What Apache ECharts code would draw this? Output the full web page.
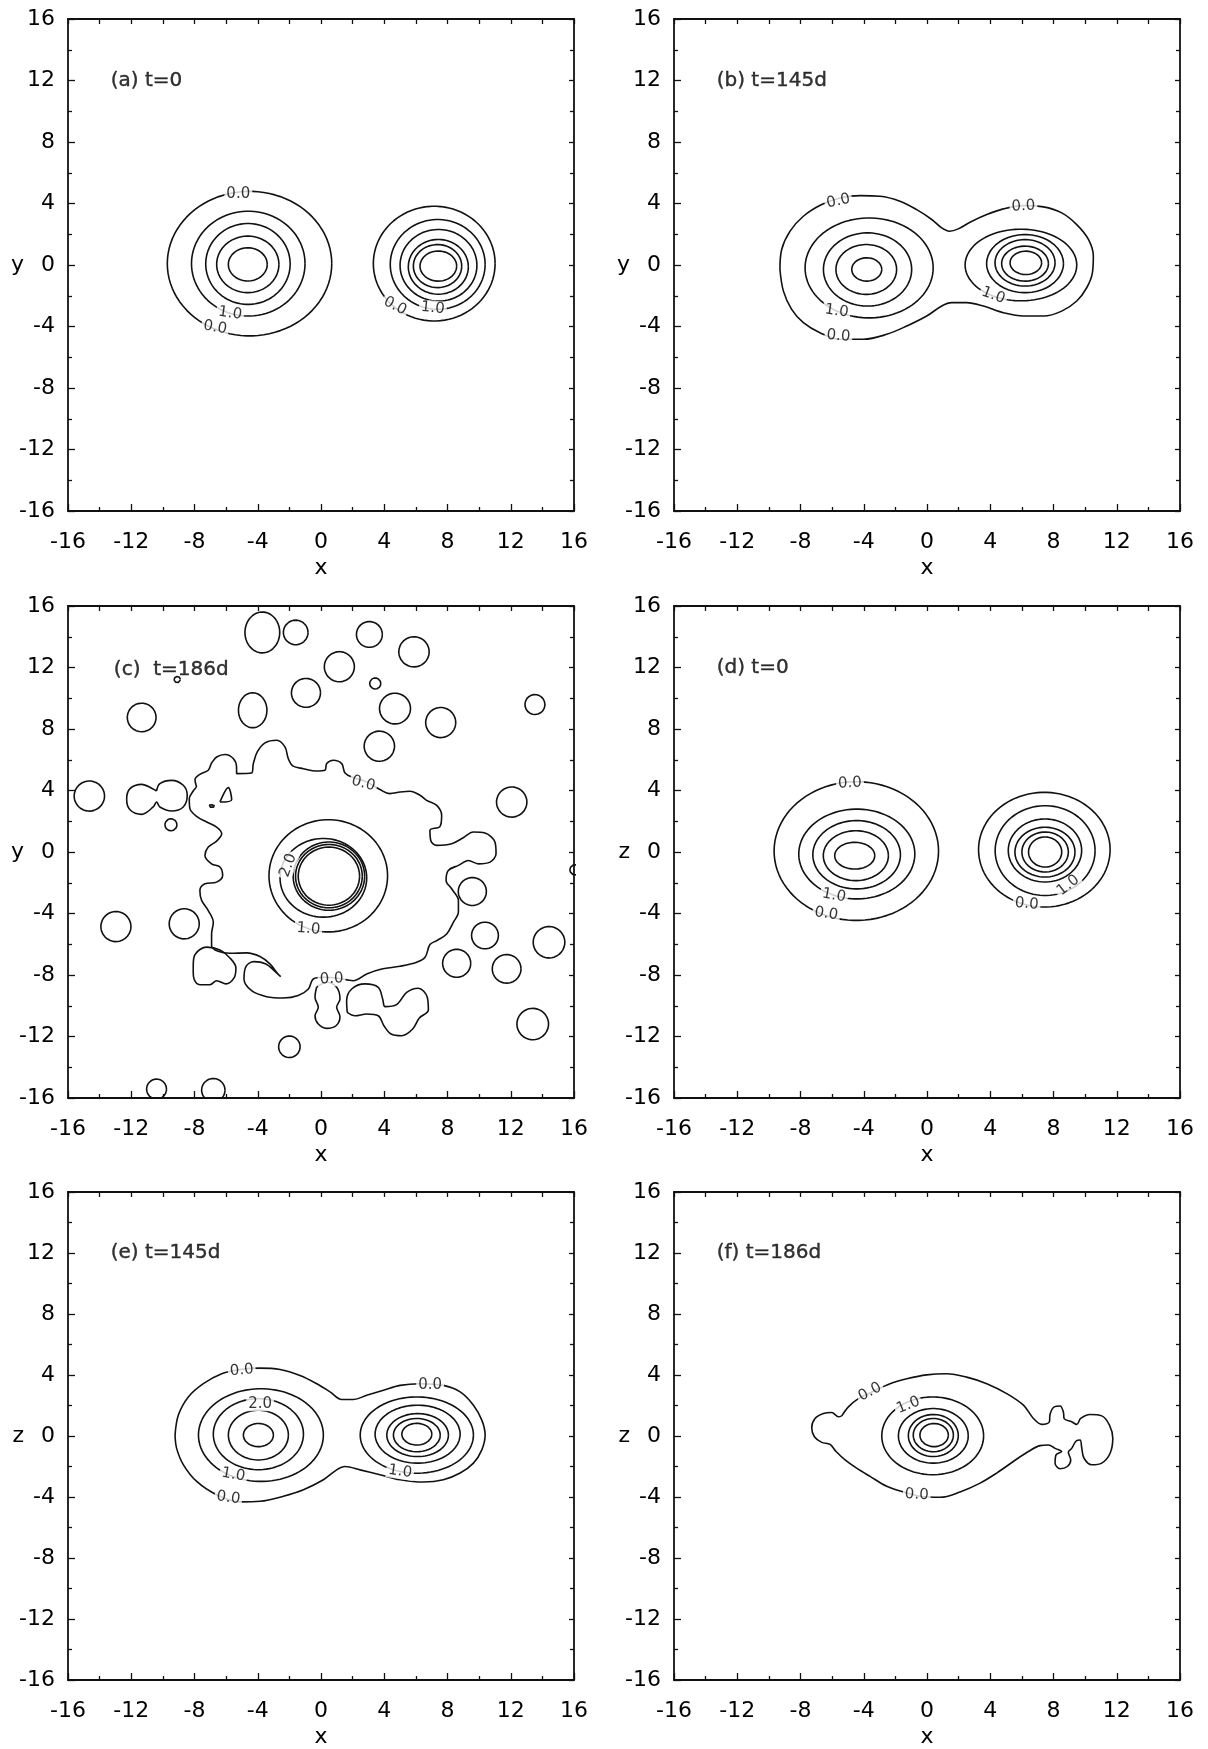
<!DOCTYPE html>
<html><head><meta charset="utf-8">
<script src="https://cdn.jsdelivr.net/npm/echarts@6/dist/echarts.min.js"></script>
<style>html,body{margin:0;padding:0;background:#fff}#c{width:1208px;height:1749px}</style>
</head><body><div id="c"></div>
<script>
// ---------- tick values / labels ----------
const axisMin = -16, axisMax = 16, axisStep = 4;
const panelTitles = ['(a) t=0', '(b) t=145d', '(c)  t=186d', '(d) t=0', '(e) t=145d', '(f) t=186d'];
const panelYNames = ['y', 'y', 'y', 'z', 'z', 'z'];
const titlePos = [[-13.3, 12], [-13.3, 12], [-13.1, 11.85], [-13.3, 12], [-13.3, 12], [-13.3, 12]];

// ---------- contours: ellipses [cx, cy, rx, ry] ----------
const aEllipses = [
  [-4.52, 0.09, 5.2, 4.7], [-4.6, 0.09, 3.59, 3.41], [-4.62, 0.07, 2.67, 2.63],
  [-4.63, 0.04, 1.97, 1.84], [-4.63, 0.04, 1.23, 1.08],
  [7.16, 0.09, 3.85, 3.73], [7.38, 0.04, 3.0, 2.92], [7.43, -0.02, 2.43, 2.33],
  [7.42, -0.12, 1.9, 1.78], [7.37, -0.07, 1.53, 1.4], [7.42, -0.07, 1.16, 0.98]
];
const bEllipses = [
  [-3.66, -0.19, 4.05, 3.25], [-3.76, -0.29, 2.79, 2.38], [-3.84, -0.29, 1.92, 1.62], [-3.81, -0.29, 0.95, 0.76],
  [5.94, 0.0, 3.53, 2.33], [6.2, 0.09, 2.43, 1.89], [6.2, 0.14, 1.9, 1.51], [6.2, 0.09, 1.48, 1.14], [6.25, 0.14, 1.0, 0.76]
];
const cEllipses = [
  [0.46, -1.55, 3.75, 3.65], [0.15, -1.68, 2.74, 2.56], [0.5, -1.57, 2.26, 2.22], [0.5, -1.57, 2.11, 2.06], [0.5, -1.57, 1.94, 1.89],
  [-3.71, 14.28, 1.1, 1.33], [-1.6, 14.28, 0.78, 0.8], [3.06, 14.15, 0.82, 0.84], [5.88, 13.02, 0.96, 0.98],
  [1.16, 12.05, 0.95, 0.98], [3.43, 10.96, 0.35, 0.36], [-0.95, 10.35, 0.92, 0.94], [-4.32, 9.22, 0.9, 1.14],
  [-11.34, 8.75, 0.91, 0.93], [4.68, 9.33, 0.98, 1.0], [7.57, 8.42, 0.95, 0.98], [13.53, 9.59, 0.63, 0.65],
  [3.69, 6.88, 0.96, 0.98], [-14.65, 3.64, 0.96, 0.98], [-9.49, 1.77, 0.38, 0.39], [12.06, 3.25, 0.96, 0.98],
  [9.57, -2.57, 0.89, 0.91], [16.06, -1.16, 0.32, 0.33], [-12.97, -4.85, 0.95, 0.98], [-8.65, -4.67, 0.95, 0.98],
  [10.37, -5.43, 0.85, 0.87], [14.42, -5.87, 1.0, 1.02], [8.58, -7.24, 0.89, 0.91], [11.74, -7.6, 0.91, 0.93],
  [13.39, -11.19, 1.0, 1.02], [-2.0, -12.67, 0.68, 0.7], [-10.4, -15.42, 0.63, 0.65], [-6.81, -15.49, 0.74, 0.76],
  [-9.09, 11.22, 0.2, 0.2], [-6.92, 2.99, 0.2, 0.08]
];
const dEllipses = [
  [-4.47, 0.06, 5.2, 4.51], [-4.44, -0.13, 3.67, 2.92], [-4.45, -0.18, 2.77, 2.22], [-4.5, -0.24, 2.06, 1.62], [-4.57, -0.24, 1.27, 0.87],
  [7.42, 0.15, 4.16, 3.73], [7.47, 0.09, 3.16, 2.92], [7.46, 0.1, 2.32, 2.05], [7.46, -0.01, 1.9, 1.62], [7.47, 0.0, 1.47, 1.3], [7.47, 0.0, 1.05, 0.98]
];
const eEllipses = [
  [-3.8, 0.06, 3.95, 3.04], [-3.96, 0.12, 2.85, 2.33], [-3.96, 0.06, 1.9, 1.63], [-3.96, 0.06, 0.95, 0.76],
  [6.06, 0.06, 3.58, 2.5], [6.11, 0.12, 2.69, 1.9], [6.11, 0.06, 1.95, 1.41], [6.06, 0.06, 1.48, 1.09], [6.06, 0.12, 0.95, 0.71]
];
const fEllipses = [
  [0.36, 0.01, 3.22, 2.55], [0.4, 0.01, 2.21, 1.79], [0.4, 0.03, 1.58, 1.38], [0.4, 0.06, 1.27, 1.09], [0.45, 0.06, 0.9, 0.76]
];

// ---------- contours: irregular polylines [x, y] ----------
const bOuter = [[-9.3,-0.29],[-9.19,1.01],[-8.66,2.2],[-7.82,3.17],[-6.66,3.93],[-5.5,4.36],[-4.23,4.51],[-2.97,4.47],[-1.71,4.15],[-0.65,3.6],[0.3,2.96],[0.93,2.41],[1.42,2.2],[1.98,2.35],[2.72,2.78],[3.78,3.28],[4.83,3.65],[6.1,3.86],[7.36,3.78],[8.52,3.39],[9.47,2.63],[10.21,1.66],[10.52,0.58],[10.46,-0.51],[10.1,-1.48],[9.47,-2.34],[8.52,-3.0],[7.36,-3.32],[6.1,-3.32],[4.83,-3.1],[3.57,-2.67],[2.51,-2.45],[1.56,-2.45],[0.93,-2.67],[-0.02,-3.32],[-1.28,-3.97],[-2.55,-4.51],[-4.02,-4.83],[-5.5,-4.83],[-6.77,-4.4],[-7.82,-3.75],[-8.56,-2.89],[-9.08,-1.7],[-9.3,-0.29]];
const eOuter = [[-9.23,0.06],[-9.02,1.37],[-8.39,2.56],[-7.44,3.43],[-6.28,4.08],[-5.12,4.36],[-3.85,4.45],[-2.59,4.36],[-1.33,3.97],[-0.27,3.43],[0.57,2.89],[1.31,2.39],[2.05,2.39],[2.89,2.67],[3.95,3.0],[5.0,3.32],[6.26,3.43],[7.74,3.32],[8.8,2.89],[9.64,2.02],[10.17,1.04],[10.38,0.06],[10.17,-0.91],[9.64,-1.78],[8.8,-2.43],[7.74,-2.87],[6.48,-3.02],[5.0,-2.87],[3.73,-2.54],[2.47,-2.22],[1.52,-2.0],[0.99,-2.22],[0.15,-2.87],[-1.11,-3.52],[-2.38,-3.95],[-3.85,-4.28],[-5.12,-4.32],[-6.6,-3.85],[-7.86,-2.98],[-8.7,-1.89],[-9.13,-0.81],[-9.23,0.06]];
const fOuter = [[-5.39,1.32],[-4.97,1.91],[-4.34,2.45],[-3.39,2.93],[-2.34,3.43],[-1.28,3.75],[-0.02,4.01],[1.25,4.08],[2.51,3.86],[3.78,3.43],[5.04,2.78],[6.1,2.02],[6.73,1.15],[7.26,0.76],[7.74,0.93],[7.78,1.41],[8.04,1.91],[8.42,1.97],[8.63,1.54],[8.67,1.15],[9.15,0.93],[9.47,0.76],[9.72,1.15],[10.31,1.41],[11.05,1.32],[11.54,0.71],[11.75,-0.15],[11.58,-1.13],[11.05,-1.78],[10.42,-1.89],[9.93,-1.46],[9.79,-0.81],[9.68,-0.26],[9.43,-0.33],[9.15,-0.81],[8.94,-1.07],[9.09,-1.57],[8.88,-2.0],[8.42,-2.15],[8.1,-1.78],[8.16,-1.24],[8.52,-1.02],[8.1,-0.81],[7.68,-0.59],[7.15,-0.63],[6.41,-1.02],[5.46,-1.67],[4.41,-2.43],[3.36,-3.09],[2.09,-3.67],[0.83,-4.02],[-0.44,-3.95],[-1.49,-3.67],[-2.55,-3.3],[-3.6,-2.65],[-4.45,-2.11],[-5.18,-1.57],[-5.75,-1.02],[-6.13,-0.55],[-6.66,-0.42],[-7.12,-0.05],[-7.29,0.54],[-7.08,1.15],[-6.55,1.47],[-6.03,1.54],[-5.6,1.26],[-5.39,1.32]];
const cOuter = [[-7.87,4.23],[-7.97,4.71],[-7.66,5.05],[-7.13,5.32],[-6.92,5.79],[-6.6,6.18],[-6.07,6.34],[-5.55,6.08],[-5.34,5.53],[-5.34,5.1],[-4.39,5.14],[-4.28,5.75],[-4.03,6.51],[-3.54,7.1],[-2.8,7.27],[-2.28,6.84],[-2.07,6.08],[-1.79,5.6],[-1.12,5.42],[-0.28,5.27],[0.25,5.32],[0.36,5.75],[0.78,5.97],[1.31,5.75],[1.52,5.14],[2.04,4.84],[2.89,4.56],[3.73,4.06],[4.36,3.8],[5.0,3.9],[5.63,3.95],[6.26,3.69],[6.68,3.36],[7.32,3.03],[7.63,2.38],[7.53,1.67],[6.89,1.41],[6.94,0.75],[7.32,0.43],[8.26,0.54],[9.0,0.93],[9.63,1.3],[10.37,1.23],[11.0,0.65],[11.07,-0.11],[10.69,-0.66],[9.95,-0.77],[9.32,-0.55],[8.69,-0.87],[8.05,-1.2],[7.91,-1.85],[8.26,-2.39],[8.69,-3.15],[8.69,-3.91],[8.37,-4.57],[7.95,-5.33],[7.32,-5.76],[6.89,-6.02],[6.58,-6.85],[6.05,-7.17],[5.0,-7.43],[3.84,-7.61],[2.89,-7.93],[2.04,-8.37],[0.99,-8.19],[0.15,-8.15],[-0.49,-8.26],[-0.8,-8.91],[-1.44,-9.34],[-2.38,-9.5],[-3.44,-9.41],[-4.39,-9.02],[-4.87,-8.26],[-4.75,-7.45],[-4.24,-7.13],[-3.48,-7.28],[-2.91,-7.76],[-2.55,-8.11],[-2.76,-7.89],[-3.23,-7.28],[-3.86,-6.8],[-4.7,-6.56],[-5.76,-6.59],[-6.5,-6.46],[-6.92,-6.09],[-6.92,-5.33],[-6.81,-4.57],[-7.13,-3.81],[-7.55,-3.15],[-7.66,-2.5],[-7.34,-2.07],[-6.6,-1.96],[-6.22,-1.53],[-6.39,-0.98],[-6.92,-0.77],[-7.34,-0.22],[-7.13,0.32],[-6.6,0.71],[-6.28,1.19],[-6.6,1.62],[-7.23,1.95],[-7.82,2.28],[-8.29,2.82],[-8.33,3.47],[-8.08,3.97],[-7.87,4.23]];
const cPeanutLeft = [[-10.4,3.97],[-10.19,4.45],[-9.45,4.66],[-8.71,4.34],[-8.46,3.69],[-8.71,2.93],[-9.45,2.67],[-10.19,2.93],[-10.4,3.25],[-10.61,2.93],[-11.34,2.45],[-12.08,2.75],[-12.29,3.43],[-12.08,4.12],[-11.34,4.4],[-10.65,4.12],[-10.4,3.97]];
const cPeanutLow = [[-0.28,-8.8],[0.36,-8.47],[0.99,-8.8],[1.2,-9.56],[0.99,-10.1],[1.2,-10.71],[0.95,-11.3],[0.36,-11.47],[-0.17,-11.19],[-0.38,-10.65],[-0.17,-10.1],[-0.38,-9.45],[-0.28,-8.8]];
const cTrefoil = [[1.66,-10.43],[1.62,-9.67],[1.94,-8.91],[2.78,-8.58],[3.62,-8.8],[3.9,-9.56],[4.05,-10.06],[4.78,-9.93],[5.42,-9.13],[6.15,-8.86],[6.72,-9.45],[6.79,-10.28],[6.22,-10.8],[5.8,-11.51],[5.1,-11.95],[4.43,-11.84],[3.98,-11.3],[3.62,-10.65],[2.89,-10.54],[2.15,-10.65],[1.66,-10.43]];
const cLeftBlob = [[-8.08,-7.39],[-7.97,-6.67],[-7.23,-6.19],[-6.39,-6.37],[-5.76,-6.89],[-5.38,-7.54],[-5.5,-8.19],[-6.01,-8.58],[-6.6,-8.37],[-7.02,-8.63],[-7.66,-8.63],[-8.03,-8.26],[-8.08,-7.82],[-8.08,-7.39]];
const cTriangle = [[-6.39,3.25],[-5.86,4.19],[-5.65,3.4],[-6.39,3.25]];

// ---------- contour labels [x, y, text, rotation] ----------
const aLabels = [[-5.23,4.64,'0.0',0],[-5.75,-3.15,'1.0',-8],[-6.7,-4.07,'0.0',-10],[4.68,-2.67,'0.0',-28],[7.07,-2.8,'1.0',-6]];
const bLabels = [[-5.6,4.15,'0.0',12],[6.1,3.82,'0.0',3],[-5.71,-3.0,'1.0',-8],[-5.6,-4.62,'0.0',-5],[4.2,-1.98,'1.0',-20]];
const cLabels = [[2.68,4.45,'0.0',-15],[0.67,-8.26,'0.0',3],[-2.07,-0.87,'2.0',70],[-0.8,-5.0,'1.0',-5]];
const dLabels = [[-4.87,4.48,'0.0',3],[-5.88,-2.83,'1.0',-10],[-6.37,-4.02,'0.0',-8],[8.93,-2.18,'1.0',38],[6.3,-3.37,'0.0',-5]];
const eLabels = [[-5.01,4.3,'0.0',5],[-3.85,2.12,'2.0',0],[-5.54,-2.54,'1.0',-10],[-5.86,-4.06,'0.0',-8],[6.9,3.32,'0.0',0],[5.0,-2.33,'1.0',-8]];
const fLabels = [[-3.6,2.89,'0.0',28],[-1.18,2.02,'1.0',22],[-0.65,-3.85,'0.0',-3]];

const panels = [
  {ell: aEllipses, poly: [], labels: aLabels},
  {ell: bEllipses, poly: [bOuter], labels: bLabels},
  {ell: cEllipses, poly: [cOuter, cPeanutLeft, cPeanutLow, cTrefoil, cLeftBlob, cTriangle], labels: cLabels},
  {ell: dEllipses, poly: [], labels: dLabels},
  {ell: eEllipses, poly: [eOuter], labels: eLabels},
  {ell: fEllipses, poly: [fOuter], labels: fLabels}
];

// ---------- build chart ----------
const FONT = '"DejaVu Sans", Verdana, sans-serif';
const colLeft = [68, 674], rowTop = [19, 606, 1192], gW = 506, gH = 492;
const ink = '#111';

function ellipsePts(e) {
  const [cx, cy, rx, ry] = e, pts = [];
  for (let k = 0; k <= 90; k++) { const t = k / 90 * 2 * Math.PI; pts.push([cx + rx * Math.cos(t), cy + ry * Math.sin(t)]); }
  return pts;
}

const grid = [], xAxis = [], yAxis = [], series = [];
panels.forEach((p, i) => {
  const col = i % 2, row = Math.floor(i / 2);
  grid.push({left: colLeft[col], top: rowTop[row], width: gW, height: gH});
  const common = {gridIndex: i, type: 'value', min: axisMin, max: axisMax, interval: axisStep, splitLine: {show: false}};
  const line = {show: true, onZero: false, lineStyle: {color: ink, width: 1.8}};
  xAxis.push(Object.assign({}, common, {position: 'bottom', axisLine: line,
    axisTick: {inside: true, length: 7, lineStyle: {color: ink, width: 1.3}},
    minorTick: {show: true, splitNumber: 2, length: 4, lineStyle: {color: ink, width: 1.3}},
    axisLabel: {fontSize: 22, color: '#000', fontFamily: FONT, margin: 20},
    name: 'x', nameLocation: 'middle', nameGap: 46, nameMoveOverlap: false,
    nameTextStyle: {fontSize: 22, color: '#000', fontFamily: FONT}}));
  xAxis.push(Object.assign({}, common, {position: 'top', axisLine: line,
    axisTick: {inside: true, length: 5, lineStyle: {color: ink, width: 1.3}},
    minorTick: {show: true, splitNumber: 2, length: 5, lineStyle: {color: ink, width: 1.3}},
    axisLabel: {show: false}}));
  yAxis.push(Object.assign({}, common, {position: 'left', axisLine: line,
    axisTick: {inside: true, length: 7, lineStyle: {color: ink, width: 1.3}},
    minorTick: {show: true, splitNumber: 2, length: 4, lineStyle: {color: ink, width: 1.3}},
    axisLabel: {fontSize: 22, color: '#000', fontFamily: FONT, margin: 13},
    name: panelYNames[i], nameLocation: 'middle', nameRotate: 0, nameGap: 44, nameMoveOverlap: false,
    nameTextStyle: {fontSize: 22, color: '#000', fontFamily: FONT}}));
  yAxis.push(Object.assign({}, common, {position: 'right', axisLine: line,
    axisTick: {inside: true, length: 5, lineStyle: {color: ink, width: 1.3}},
    minorTick: {show: true, splitNumber: 2, length: 4, lineStyle: {color: ink, width: 1.3}},
    axisLabel: {show: false}}));

  const ax = {xAxisIndex: 2 * i, yAxisIndex: 2 * i};
  p.ell.forEach(e => series.push(Object.assign({type: 'line', data: ellipsePts(e), showSymbol: false, symbol: 'none',
    lineStyle: {color: ink, width: 1.6}, silent: true, animation: false, clip: true, z: 2}, ax)));
  p.poly.forEach(pl => series.push(Object.assign({type: 'line', data: pl, showSymbol: false, symbol: 'none', smooth: 0.35,
    lineStyle: {color: ink, width: 1.6}, silent: true, animation: false, clip: true, z: 2}, ax)));
  series.push(Object.assign({type: 'scatter', symbolSize: 0.1, itemStyle: {color: '#fff'}, silent: true, animation: false, z: 5,
    data: p.labels.map(l => ({value: [l[0], l[1]], name: l[2],
      label: {show: true, position: 'inside', formatter: '{b}', rotate: l[3], fontSize: 15, color: '#000', fontFamily: FONT,
        textBorderWidth: 0, textBorderColor: 'transparent', backgroundColor: '#fff', padding: [0, 2]}}))}, ax));
  series.push(Object.assign({type: 'scatter', symbolSize: 0.1, itemStyle: {color: '#fff'}, silent: true, animation: false, z: 6,
    data: [{value: titlePos[i], name: panelTitles[i],
      label: {show: true, position: 'inside', align: 'left', verticalAlign: 'middle', formatter: '{b}', fontSize: 20, color: '#000',
        textBorderColor: '#000', textBorderWidth: 0.4, fontFamily: FONT}}]}, ax));
});

const chart = echarts.init(document.getElementById('c'), null, {renderer: 'canvas'});
chart.setOption({backgroundColor: '#fff', animation: false, grid, xAxis, yAxis, series});
</script></body></html>
